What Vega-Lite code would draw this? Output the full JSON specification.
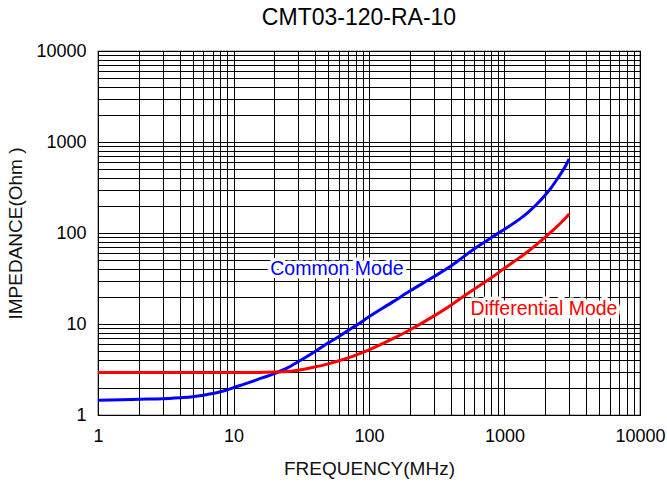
{
  "$schema": "https://vega.github.io/schema/vega-lite/v6.json",
  "width": 542,
  "height": 364,
  "autosize": "none",
  "padding": {"left": 98, "top": 51, "right": 27, "bottom": 72},
  "background": "white",
  "title": {"text": "CMT03-120-RA-10", "font": "Liberation Sans", "fontSize": 23, "fontWeight": "normal", "color": "#000000", "offset": 12, "dx": -10},
  "config": {
    "view": {"stroke": "#000000", "strokeWidth": 1.2},
    "axis": {"labelFont": "Liberation Sans", "titleFont": "Liberation Sans", "labelFontSize": 18, "titleFontSize": 19, "titleFontWeight": "normal", "labelColor": "#000000", "titleColor": "#111111", "gridColor": "#000000", "gridOpacity": 1, "gridWidth": 1, "ticks": false, "domain": false, "labelOverlap": false, "labelFlush": false}
  },
  "datasets": {
    "curves": [
      {"f": 1, "z": 1.45, "mode": "Common Mode"},
      {"f": 1.5, "z": 1.47, "mode": "Common Mode"},
      {"f": 2, "z": 1.49, "mode": "Common Mode"},
      {"f": 3, "z": 1.51, "mode": "Common Mode"},
      {"f": 4, "z": 1.55, "mode": "Common Mode"},
      {"f": 5, "z": 1.59, "mode": "Common Mode"},
      {"f": 6, "z": 1.65, "mode": "Common Mode"},
      {"f": 7, "z": 1.72, "mode": "Common Mode"},
      {"f": 8, "z": 1.8, "mode": "Common Mode"},
      {"f": 9, "z": 1.89, "mode": "Common Mode"},
      {"f": 10, "z": 2.0, "mode": "Common Mode"},
      {"f": 12, "z": 2.18, "mode": "Common Mode"},
      {"f": 15, "z": 2.45, "mode": "Common Mode"},
      {"f": 20, "z": 2.85, "mode": "Common Mode"},
      {"f": 25, "z": 3.3, "mode": "Common Mode"},
      {"f": 30, "z": 3.85, "mode": "Common Mode"},
      {"f": 40, "z": 5.0, "mode": "Common Mode"},
      {"f": 50, "z": 6.2, "mode": "Common Mode"},
      {"f": 60, "z": 7.3, "mode": "Common Mode"},
      {"f": 70, "z": 8.5, "mode": "Common Mode"},
      {"f": 80, "z": 9.6, "mode": "Common Mode"},
      {"f": 100, "z": 12, "mode": "Common Mode"},
      {"f": 150, "z": 17.5, "mode": "Common Mode"},
      {"f": 200, "z": 23, "mode": "Common Mode"},
      {"f": 300, "z": 33, "mode": "Common Mode"},
      {"f": 400, "z": 43, "mode": "Common Mode"},
      {"f": 500, "z": 55, "mode": "Common Mode"},
      {"f": 600, "z": 67, "mode": "Common Mode"},
      {"f": 700, "z": 78, "mode": "Common Mode"},
      {"f": 800, "z": 89, "mode": "Common Mode"},
      {"f": 1000, "z": 110, "mode": "Common Mode"},
      {"f": 1300, "z": 143, "mode": "Common Mode"},
      {"f": 1500, "z": 170, "mode": "Common Mode"},
      {"f": 1730, "z": 207, "mode": "Common Mode"},
      {"f": 2000, "z": 262, "mode": "Common Mode"},
      {"f": 2200, "z": 312, "mode": "Common Mode"},
      {"f": 2500, "z": 410, "mode": "Common Mode"},
      {"f": 2800, "z": 535, "mode": "Common Mode"},
      {"f": 3000, "z": 650, "mode": "Common Mode"},
      {"f": 1, "z": 2.94, "mode": "Differential Mode"},
      {"f": 5, "z": 2.94, "mode": "Differential Mode"},
      {"f": 10, "z": 2.94, "mode": "Differential Mode"},
      {"f": 15, "z": 2.94, "mode": "Differential Mode"},
      {"f": 20, "z": 2.96, "mode": "Differential Mode"},
      {"f": 25, "z": 3.0, "mode": "Differential Mode"},
      {"f": 30, "z": 3.1, "mode": "Differential Mode"},
      {"f": 40, "z": 3.38, "mode": "Differential Mode"},
      {"f": 50, "z": 3.65, "mode": "Differential Mode"},
      {"f": 60, "z": 3.95, "mode": "Differential Mode"},
      {"f": 70, "z": 4.25, "mode": "Differential Mode"},
      {"f": 80, "z": 4.55, "mode": "Differential Mode"},
      {"f": 100, "z": 5.2, "mode": "Differential Mode"},
      {"f": 150, "z": 6.9, "mode": "Differential Mode"},
      {"f": 200, "z": 8.6, "mode": "Differential Mode"},
      {"f": 300, "z": 12.2, "mode": "Differential Mode"},
      {"f": 400, "z": 16, "mode": "Differential Mode"},
      {"f": 500, "z": 20.2, "mode": "Differential Mode"},
      {"f": 600, "z": 24.2, "mode": "Differential Mode"},
      {"f": 700, "z": 28.2, "mode": "Differential Mode"},
      {"f": 800, "z": 32.2, "mode": "Differential Mode"},
      {"f": 1000, "z": 41, "mode": "Differential Mode"},
      {"f": 1300, "z": 54, "mode": "Differential Mode"},
      {"f": 1500, "z": 63, "mode": "Differential Mode"},
      {"f": 1730, "z": 75, "mode": "Differential Mode"},
      {"f": 2000, "z": 90, "mode": "Differential Mode"},
      {"f": 2200, "z": 102, "mode": "Differential Mode"},
      {"f": 2500, "z": 122, "mode": "Differential Mode"},
      {"f": 2800, "z": 144, "mode": "Differential Mode"},
      {"f": 3000, "z": 162, "mode": "Differential Mode"}
    ],
    "labels": [
      {"f": 58, "z": 40, "mode": "Common Mode"},
      {"f": 1955, "z": 14.6, "mode": "Differential Mode"}
    ]
  },
  "encoding": {
    "x": {"field": "f", "type": "quantitative",
      "scale": {"type": "log", "domain": [1, 10000], "nice": false},
      "axis": {"title": "FREQUENCY(MHz)", "titlePadding": 14, "labelPadding": 12, "grid": true,
        "values": [1,2,3,4,5,6,7,8,9,10,20,30,40,50,60,70,80,90,100,200,300,400,500,600,700,800,900,1000,2000,3000,4000,5000,6000,7000,8000,9000,10000],
        "labelExpr": "(datum.value == 1 || datum.value == 10 || datum.value == 100 || datum.value == 1000 || datum.value == 10000) ? format(datum.value, 'd') : ''"}},
    "y": {"field": "z", "type": "quantitative",
      "scale": {"type": "log", "domain": [1, 10000], "nice": false},
      "axis": {"title": "IMPEDANCE(Ohm )", "titlePadding": 10, "labelPadding": 12, "grid": true,
        "values": [1,2,3,4,5,6,7,8,9,10,20,30,40,50,60,70,80,90,100,200,300,400,500,600,700,800,900,1000,2000,3000,4000,5000,6000,7000,8000,9000,10000],
        "labelExpr": "(datum.value == 1 || datum.value == 10 || datum.value == 100 || datum.value == 1000 || datum.value == 10000) ? format(datum.value, 'd') : ''"}},
    "color": {"field": "mode", "type": "nominal",
      "scale": {"domain": ["Common Mode", "Differential Mode"], "range": ["#0000ff", "#ff0000"]},
      "legend": null}
  },
  "layer": [
    {"data": {"name": "curves"}, "mark": {"type": "line", "strokeWidth": 3, "interpolate": "monotone"}},
    {"data": {"name": "labels"}, "mark": {"type": "text", "font": "Liberation Sans", "fontSize": 19.5, "align": "center", "baseline": "middle", "stroke": "white", "strokeWidth": 7, "strokeJoin": "round"},
      "encoding": {"text": {"field": "mode"}, "color": {"value": "white"}}},
    {"data": {"name": "labels"}, "mark": {"type": "text", "font": "Liberation Sans", "fontSize": 19.5, "align": "center", "baseline": "middle"},
      "encoding": {"text": {"field": "mode"}}}
  ]
}
